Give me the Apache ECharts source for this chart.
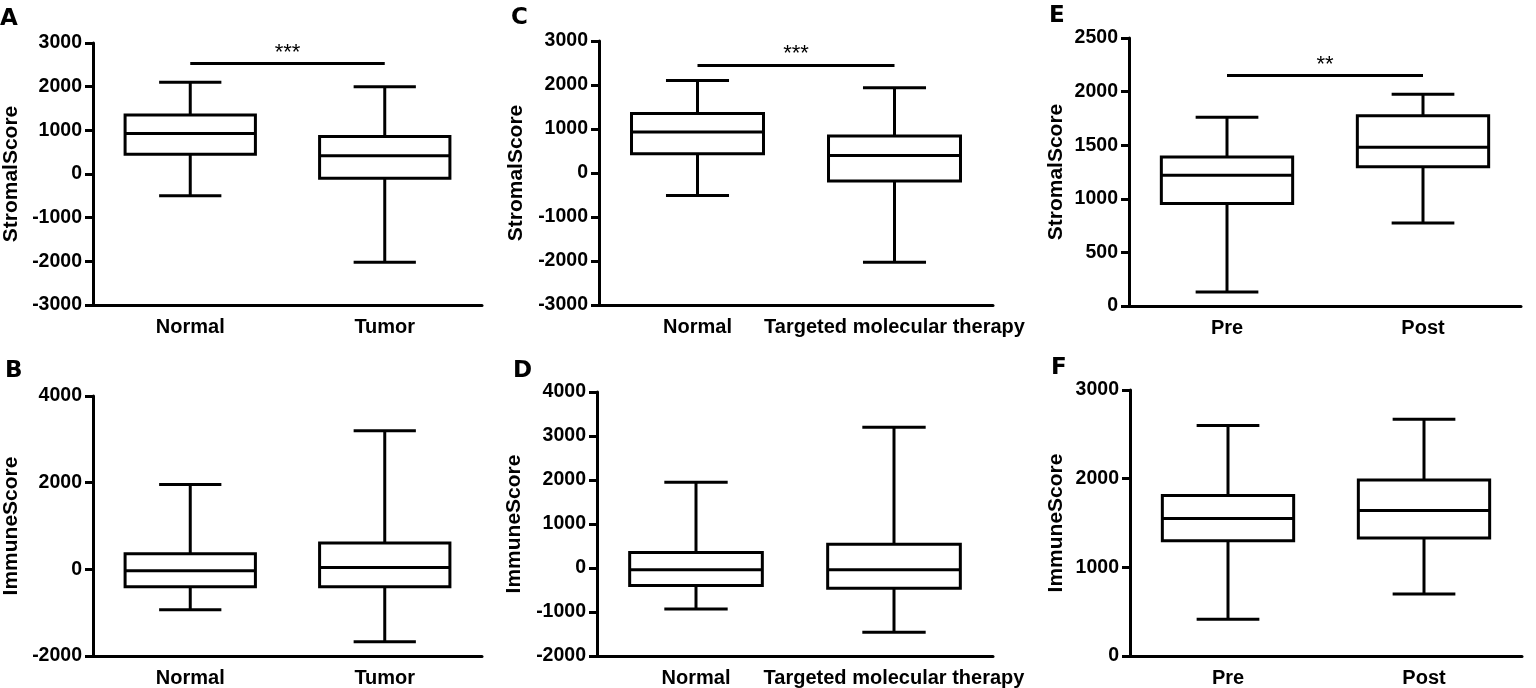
<!DOCTYPE html>
<html>
<head>
<meta charset="utf-8">
<script src="https://cdn.jsdelivr.net/npm/echarts@6/dist/echarts.min.js"></script>
<style>
  html, body { margin: 0; padding: 0; background: #fff; }
  #main { width: 1536px; height: 688px; }
</style>
</head>
<body>
<div id="main"></div>
<script>
// 数据：每个面板两组 [min, Q1, median, Q3, max]
var panelLetters = ['A', 'B', 'C', 'D', 'E', 'F'];
var catsTumor = ['Normal', 'Tumor'];
var catsTherapy = ['Normal', 'Targeted molecular therapy'];
var catsPrePost = ['Pre', 'Post'];

var stromalTumor = [[-500, 450, 930, 1350, 2100], [-2020, -100, 420, 860, 2000]];
var immuneTumor = [[-930, -400, -30, 360, 1960], [-1670, -400, 40, 610, 3200]];
var stromalTherapy = [[-510, 440, 930, 1350, 2100], [-2030, -180, 400, 840, 1940]];
var immuneTherapy = [[-930, -400, -40, 350, 1950], [-1460, -460, -40, 540, 3200]];
var stromalPrePost = [[130, 955, 1220, 1390, 1760], [775, 1300, 1480, 1775, 1975]];
var immunePrePost = [[415, 1300, 1550, 1810, 2600], [700, 1330, 1640, 1985, 2670]];

// 显著性横线的高度和星号
var sigLevel = [2530, null, 2460, null, 2150, null];
var sigText = ['***', '', '***', '', '**', ''];

// 坐标轴范围
var yMin = [-3000, -2000, -3000, -2000, 0, 0];
var yMax = [3000, 4000, 3000, 4000, 2500, 3000];
var yStep = [1000, 2000, 1000, 1000, 500, 1000];
var yNames = ['StromalScore', 'ImmuneScore', 'StromalScore', 'ImmuneScore', 'StromalScore', 'ImmuneScore'];

var panelCats = [catsTumor, catsTumor, catsTherapy, catsTherapy, catsPrePost, catsPrePost];
var panelBoxes = [stromalTumor, immuneTumor, stromalTherapy, immuneTherapy, stromalPrePost, immunePrePost];

var myChart = echarts.init(document.getElementById('main'));

var FONT = '"Liberation Sans", Arial, sans-serif';
var LW = 3;

// 各面板的绘图区位置
var gridPos = [
    { left: 89, top: 43, width: 393, height: 262 },
    { left: 89, top: 396, width: 393, height: 260 },
    { left: 599, top: 41, width: 394, height: 264 },
    { left: 597, top: 392, width: 396, height: 264 },
    { left: 1129, top: 38, width: 392, height: 268 },
    { left: 1130, top: 390, width: 392, height: 267 }
];
var nameGaps = [71, 71, 72, 72, 62, 63];
var letterPos = [[0, 8], [5, 360], [511, 7], [513, 360], [1049, 5], [1051, 357]];

function renderBox(params, api) {
    var x = api.value(0);
    var lo = api.coord([x, api.value(1)]);
    var q1 = api.coord([x, api.value(2)]);
    var med = api.coord([x, api.value(3)]);
    var q3 = api.coord([x, api.value(4)]);
    var hi = api.coord([x, api.value(5)]);
    var band = api.size([1, 0])[0];
    var bw = band * 0.67;
    var cw = band * 0.32;
    var cx = med[0];
    var st = { stroke: '#000', lineWidth: LW, fill: '#fff' };
    var ln = function (x1, y1, x2, y2) {
        return { type: 'line', shape: { x1: x1, y1: y1, x2: x2, y2: y2 }, style: st };
    };
    return {
        type: 'group',
        children: [
            ln(cx, hi[1], cx, q3[1]),
            ln(cx, q1[1], cx, lo[1]),
            ln(cx - cw / 2, hi[1], cx + cw / 2, hi[1]),
            ln(cx - cw / 2, lo[1], cx + cw / 2, lo[1]),
            { type: 'rect', shape: { x: cx - bw / 2, y: q3[1], width: bw, height: q1[1] - q3[1] }, style: st },
            ln(cx - bw / 2, med[1], cx + bw / 2, med[1])
        ]
    };
}

var grid = [], xAxis = [], yAxis = [], series = [], title = [];
panelBoxes.forEach(function (boxes, i) {
    grid.push(gridPos[i]);
    title.push({
        text: panelLetters[i],
        left: letterPos[i][0],
        top: letterPos[i][1],
        padding: 0,
        textStyle: { fontFamily: '"DejaVu Sans", sans-serif', fontWeight: 'bold', fontSize: 23, color: '#000' }
    });
    xAxis.push({
        type: 'category',
        gridIndex: i,
        data: panelCats[i],
        axisLine: { onZero: false, lineStyle: { color: '#000', width: LW } },
        axisTick: { alignWithLabel: true, length: 8, lineStyle: { color: '#000', width: LW } },
        axisLabel: { color: '#000', fontFamily: FONT, fontWeight: 'bold', fontSize: 20, margin: 12, interval: 0 },
        splitLine: { show: false }
    });
    yAxis.push({
        type: 'value',
        gridIndex: i,
        min: yMin[i],
        max: yMax[i],
        interval: yStep[i],
        name: yNames[i],
        nameLocation: 'middle',
        nameGap: nameGaps[i],
        nameTextStyle: { color: '#000', fontFamily: FONT, fontWeight: 'bold', fontSize: 21 },
        axisLine: { show: true, lineStyle: { color: '#000', width: LW } },
        axisTick: { show: true, length: 8, lineStyle: { color: '#000', width: LW } },
        axisLabel: {
            color: '#000', fontFamily: FONT, fontWeight: 'bold', fontSize: 19.5, margin: 11,
            formatter: function (v) { return String(v); }
        },
        splitLine: { show: false }
    });
    var s = {
        type: 'custom',
        xAxisIndex: i,
        yAxisIndex: i,
        renderItem: renderBox,
        encode: { x: 0, y: [1, 2, 3, 4, 5] },
        data: boxes.map(function (b, j) { return [j].concat(b); }),
        silent: true
    };
    if (sigLevel[i] != null) {
        s.markLine = {
            silent: true,
            symbol: ['none', 'none'],
            lineStyle: { color: '#000', width: LW, type: 'solid' },
            label: {
                show: true,
                position: 'middle',
                formatter: sigText[i],
                color: '#000',
                fontFamily: FONT,
                fontSize: 22,
                distance: 0
            },
            emphasis: { disabled: true },
            data: [[{ coord: [0, sigLevel[i]] }, { coord: [1, sigLevel[i]] }]]
        };
    }
    series.push(s);
});

var option = {
    animation: false,
    backgroundColor: '#fff',
    title: title,
    grid: grid,
    xAxis: xAxis,
    yAxis: yAxis,
    series: series
};
myChart.setOption(option);
</script>
</body>
</html>
